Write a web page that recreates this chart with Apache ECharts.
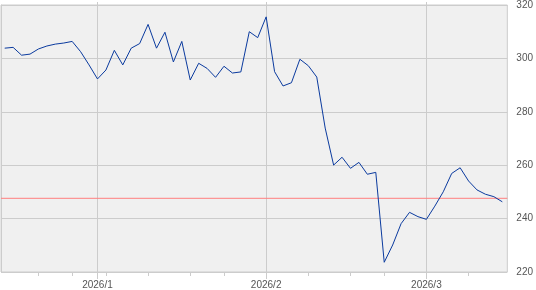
<!DOCTYPE html>
<html><head><meta charset="utf-8">
<script src="https://cdn.jsdelivr.net/npm/echarts@6/dist/echarts.min.js"></script>
<style>html,body{margin:0;padding:0;background:#fff}#c{width:536px;height:290px}</style>
</head><body><div id="c"></div>
<script>
// trading days
var dates = [
 "2025/12/16","2025/12/17","2025/12/18","2025/12/19","2025/12/22","2025/12/23","2025/12/24","2025/12/26","2025/12/29","2025/12/30","2025/12/31",
 "2026/01/02","2026/01/05","2026/01/06","2026/01/07","2026/01/08","2026/01/09","2026/01/12","2026/01/13","2026/01/14","2026/01/15","2026/01/16",
 "2026/01/20","2026/01/21","2026/01/22","2026/01/23","2026/01/26","2026/01/27","2026/01/28","2026/01/29","2026/01/30",
 "2026/02/02","2026/02/03","2026/02/04","2026/02/05","2026/02/06","2026/02/09","2026/02/10","2026/02/11","2026/02/12","2026/02/13",
 "2026/02/17","2026/02/18","2026/02/19","2026/02/20","2026/02/23","2026/02/24","2026/02/25","2026/02/26","2026/02/27",
 "2026/03/02","2026/03/03","2026/03/04","2026/03/05","2026/03/06","2026/03/09","2026/03/10","2026/03/11","2026/03/12","2026/03/13"
];
var prices = [
 302.9,303.2,300.3,300.7,302.6,303.7,304.4,304.8,305.4,301.6,296.7,
 291.5,294.8,302.1,296.7,302.9,304.6,311.7,302.9,308.8,297.8,305.4,
 291.1,297.3,295.4,292.1,296.2,293.7,294.1,309.0,306.8,
 314.5,294.2,288.9,290.1,298.8,296.4,292.2,273.3,259.6,262.5,
 258.4,260.6,256.2,256.9,223.6,230.0,237.9,242.1,240.5,
 239.5,244.4,249.7,256.5,258.6,253.7,250.4,248.8,247.9,246.0
];
var refLevel = [247.6, 247.6];
var yTicks = [220, 240, 260, 280, 300, 320];

var weekStart = {}, monthStart = {};
for (var i = 0; i < dates.length; i++) {
  var d = new Date(dates[i].replace(/\//g, '-') + 'T00:00:00Z');
  var p = i > 0 ? new Date(dates[i-1].replace(/\//g, '-') + 'T00:00:00Z') : null;
  if (p && (d.getUTCDay() < p.getUTCDay() || (d - p) > 6 * 86400000)) weekStart[i] = true;
  if (p && d.getUTCMonth() !== p.getUTCMonth()) monthStart[i] = true;
}
function isWeek(idx) { return !!weekStart[idx]; }
function isMonth(idx) { return !!monthStart[idx]; }

var chart = echarts.init(document.getElementById('c'), null, {renderer: 'canvas'});
var FONT = 'Liberation Sans, Arial, sans-serif';
chart.setOption({
  animation: false,
  grid: [
    {left: 1, top: 2, width: 508, height: 270, show: true, backgroundColor: '#f0f0f0', borderColor: '#cccccc', borderWidth: 1},
    {left: 4.7, top: 2, width: 497.6, height: 270}
  ],
  xAxis: [
    {type: 'value', gridIndex: 0, min: 0, max: 1, show: false},
    {type: 'category', gridIndex: 1, data: dates, boundaryGap: false,
     axisLine: {show: false},
     axisTick: {show: true, interval: function (idx) { return isWeek(idx); }, length: 4, lineStyle: {color: '#cccccc'}},
     axisLabel: {show: false}, splitLine: {show: false}},
    {type: 'category', gridIndex: 1, data: dates, boundaryGap: false, position: 'bottom',
     axisLine: {show: false},
     axisTick: {show: true, interval: function (idx) { return isMonth(idx); }, length: 7, lineStyle: {color: '#cccccc'}},
     axisLabel: {show: true, interval: function (idx) { return isMonth(idx); }, color: '#555555', fontSize: 10, fontFamily: FONT, margin: 8,
       formatter: function (v) { var s = v.split('/'); return s[0] + '/' + parseInt(s[1], 10); }},
     splitLine: {show: true, interval: function (idx) { return isMonth(idx); }, lineStyle: {color: '#cccccc', width: 1}}}
  ],
  yAxis: [
    {type: 'value', gridIndex: 0, position: 'right', min: yTicks[0], max: yTicks[yTicks.length - 1], interval: 20,
     axisLine: {show: true, lineStyle: {color: '#cccccc'}},
     axisTick: {show: true, length: 5, lineStyle: {color: '#cccccc'}},
     axisLabel: {color: '#555555', fontSize: 10, fontFamily: FONT, margin: 9},
     splitLine: {show: true, lineStyle: {color: '#cccccc', width: 1}}},
    {type: 'value', gridIndex: 1, min: yTicks[0], max: yTicks[yTicks.length - 1], show: false, splitLine: {show: false}}
  ],
  series: [
    {type: 'line', xAxisIndex: 0, yAxisIndex: 0, data: [[0, refLevel[0]], [1, refLevel[1]]],
     symbol: 'none', lineStyle: {color: '#ff7f7f', width: 1}, silent: true, z: 3},
    {type: 'line', xAxisIndex: 1, yAxisIndex: 1, data: prices, symbol: 'none',
     lineStyle: {color: '#0a3a9e', width: 1}, z: 4}
  ]
});
</script></body></html>
